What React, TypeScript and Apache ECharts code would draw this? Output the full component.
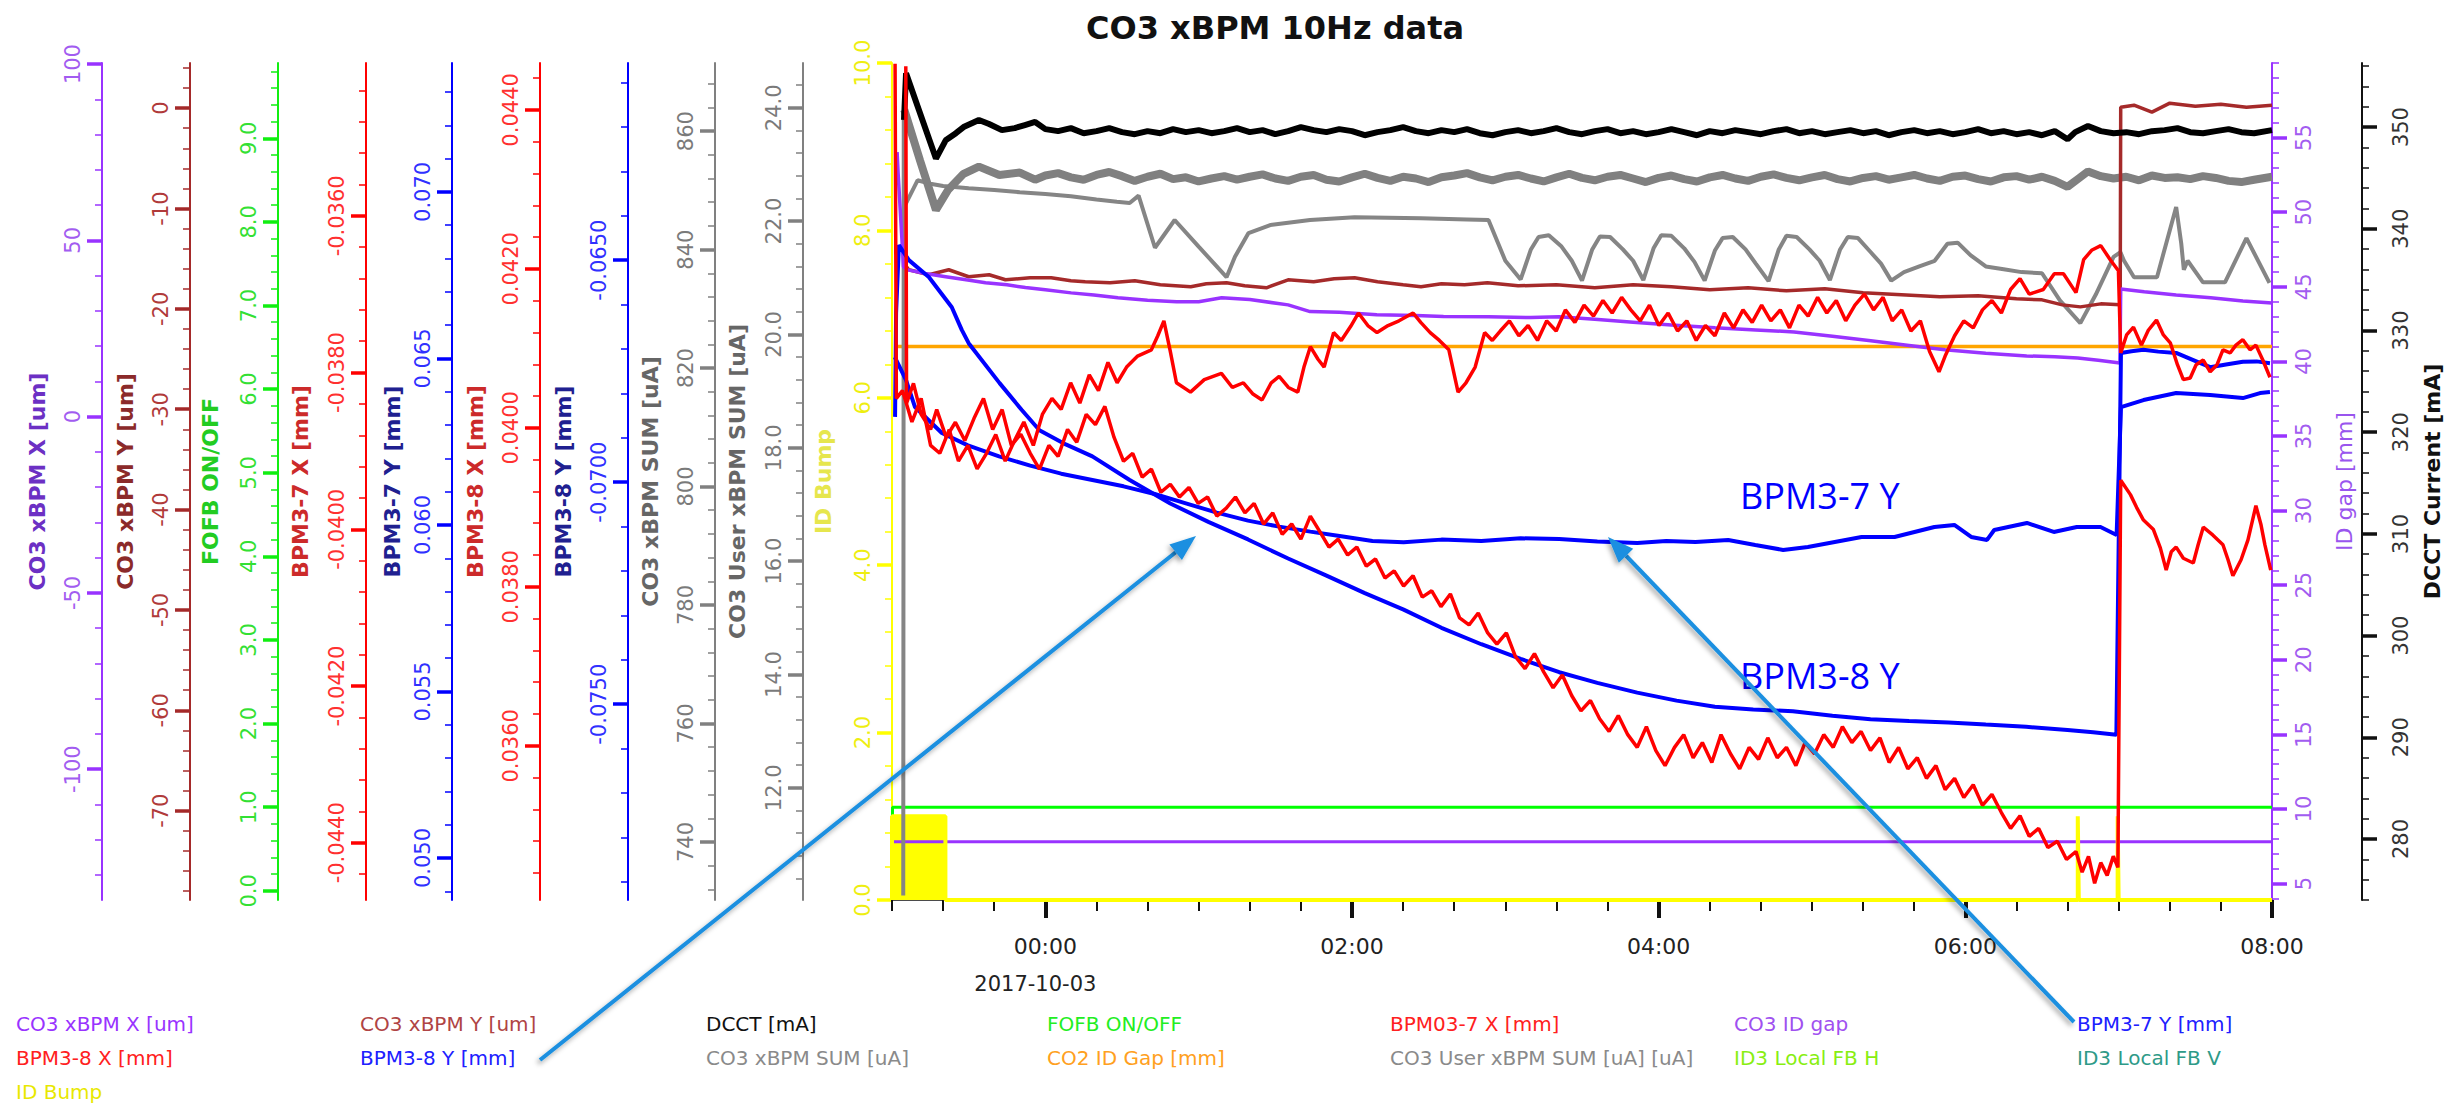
import React, { useEffect, useRef } from 'react';
import * as echarts from 'echarts';

type Pt = [number, number];

const FONT = "'DejaVu Sans', 'Liberation Sans', sans-serif";
const TITLE = 'CO3 xBPM 10Hz data';
const DAY_LABEL = '2017-10-03';

// Time axis: minutes after 2017-10-03 00:00
const X_MIN = -60;
const X_MAX = 480;
const hourTicks = [0, 120, 240, 360, 480];

// Major tick values of every vertical scale
const xbpmXTicks = [-100, -50, 0, 50, 100];
const xbpmYTicks = [-70, -60, -50, -40, -30, -20, -10, 0];
const fofbTicks = [0, 1, 2, 3, 4, 5, 6, 7, 8, 9];
const bpm37xTicks = [-0.044, -0.042, -0.04, -0.038, -0.036];
const bpm37yTicks = [0.05, 0.055, 0.06, 0.065, 0.07];
const bpm38xTicks = [0.036, 0.038, 0.04, 0.042, 0.044];
const bpm38yTicks = [-0.075, -0.07, -0.065];
const sumTicks = [740, 760, 780, 800, 820, 840, 860];
const userSumTicks = [12, 14, 16, 18, 20, 22, 24];
const idBumpTicks = [0, 2, 4, 6, 8, 10];
const idGapTicks = [5, 10, 15, 20, 25, 30, 35, 40, 45, 50, 55];
const dcctTicks = [280, 290, 300, 310, 320, 330, 340, 350];

// ---- series data: [minutes, value] ----
const co3IdGap: Pt[] = [[-60, 7.8], [480, 7.8]];
const co2IdGap: Pt[] = [[-58.8, 41.0], [480, 41.0]];
const fofb: Pt[] = [[-60, 0], [-59.8, 1], [480, 1]];
const idBump: Pt[] = [
  [-60, 0], [-60, 1], [-39.1, 1], [-39.1, 0], [404, 0], [404, 1], [404.4, 0],
  [419.6, 0], [419.6, 1], [420, 0], [480, 0],
];

const dcct: Pt[] = [
  [-55.3, 350.7], [-54.5, 355.3], [-49.5, 351.7], [-42.8, 346.9], [-39, 348.7], [-35, 349.4], [-32, 350.0],
  [-26, 350.7], [-22, 350.3], [-17, 349.7], [-12, 349.9], [-8, 350.2], [-4, 350.5], [0, 349.8], [5, 349.6],
  [10, 349.9], [15, 349.4], [20, 349.6], [25, 349.9], [30, 349.5], [35, 349.3], [40, 349.6], [45, 349.4],
  [50, 349.8], [55, 349.5], [60, 349.7], [65, 349.4], [70, 349.6], [75, 349.9], [80, 349.5], [85, 349.7],
  [90, 349.3], [95, 349.6], [100, 350.0], [105, 349.7], [110, 349.5], [115, 349.8], [120, 349.6], [125, 349.2],
  [130, 349.5], [135, 349.7], [140, 350.0], [145, 349.6], [150, 349.4], [155, 349.7], [160, 349.5], [165, 349.8],
  [170, 349.4], [175, 349.2], [180, 349.5], [185, 349.7], [190, 349.4], [195, 349.6], [200, 349.9], [205, 349.5],
  [210, 349.3], [215, 349.6], [220, 349.8], [225, 349.4], [230, 349.6], [235, 349.3], [240, 349.5], [245, 349.8],
  [250, 349.5], [255, 349.2], [260, 349.6], [265, 349.4], [270, 349.7], [275, 349.5], [280, 349.3], [285, 349.6],
  [290, 349.8], [295, 349.4], [300, 349.6], [305, 349.3], [310, 349.5], [315, 349.7], [320, 349.4], [325, 349.6],
  [330, 349.2], [335, 349.5], [340, 349.7], [345, 349.4], [350, 349.6], [355, 349.3], [360, 349.5], [365, 349.8],
  [370, 349.4], [375, 349.6], [380, 349.3], [385, 349.5], [390, 349.2], [395, 349.6], [400, 348.8], [403, 349.5],
  [408, 350.1], [413, 349.6], [418, 349.4], [423, 349.5], [428, 349.3], [433, 349.6], [438, 349.7], [443, 349.9],
  [448, 349.5], [453, 349.4], [458, 349.6], [463, 349.8], [468, 349.5], [473, 349.4], [480, 349.7],
];

const xbpmSum: Pt[] = [
  [-55.2, 863.6], [-49, 855.0], [-42.8, 846.7], [-38, 850.1], [-32, 852.8], [-26, 854.0], [-18, 852.6], [-10, 853.0],
  [-4, 851.8], [0, 852.5], [5, 852.9], [10, 852.2], [15, 851.8], [20, 852.6], [25, 853.1], [30, 852.4], [35, 851.6],
  [40, 852.3], [45, 852.8], [50, 851.9], [55, 852.2], [60, 851.5], [65, 852.0], [70, 852.4], [75, 851.8], [80, 852.3],
  [85, 852.7], [90, 852.0], [95, 851.6], [100, 852.3], [105, 852.6], [110, 851.8], [115, 851.5], [120, 852.2],
  [125, 852.8], [130, 852.1], [135, 851.6], [140, 852.3], [145, 852.0], [150, 851.4], [155, 852.2], [160, 852.5],
  [165, 852.9], [170, 852.2], [175, 851.7], [180, 852.3], [185, 852.6], [190, 852.0], [195, 851.5], [200, 852.2],
  [205, 852.8], [210, 852.1], [215, 851.7], [220, 852.3], [225, 852.6], [230, 852.0], [235, 851.4], [240, 852.1],
  [245, 852.5], [250, 851.9], [255, 851.5], [260, 852.2], [265, 852.6], [270, 852.0], [275, 851.6], [280, 852.3],
  [285, 852.7], [290, 852.1], [295, 851.7], [300, 852.2], [305, 852.6], [310, 851.9], [315, 851.5], [320, 852.1],
  [325, 852.4], [330, 851.8], [335, 852.2], [340, 852.6], [345, 852.0], [350, 851.6], [355, 852.3], [360, 852.5],
  [365, 851.9], [370, 851.5], [375, 852.2], [380, 852.4], [385, 851.8], [390, 852.3], [395, 851.6], [400, 850.6],
  [404, 851.9], [408, 853.2], [413, 852.4], [418, 852.0], [423, 852.3], [428, 851.7], [433, 852.5], [438, 852.1],
  [443, 852.2], [448, 851.9], [453, 852.4], [458, 852.1], [463, 851.6], [468, 851.4], [473, 851.8], [480, 852.3],
];

const userSum: Pt[] = [
  [-55.6, 10.1], [-55.4, 23.9], [-55.2, 22.25], [-50, 22.72], [-45, 22.66], [-40, 22.62], [-30, 22.58], [-20, 22.55],
  [-10, 22.51], [0, 22.48], [10, 22.44], [20, 22.38], [28, 22.34], [33, 22.32], [36.5, 22.45], [42.9, 21.53],
  [50.6, 22.02], [60, 21.55], [70.9, 21.01], [74.2, 21.37], [79.5, 21.79], [88, 21.93], [103.6, 22.02], [121, 22.07],
  [147, 22.05], [165, 22.03], [173.4, 22.02], [180, 21.3], [186, 20.97], [190, 21.5], [193, 21.72], [197, 21.75],
  [202, 21.55], [206, 21.3], [210, 20.95], [214, 21.5], [217, 21.73], [221, 21.72], [226, 21.5], [230, 21.3],
  [234, 20.96], [238, 21.52], [241, 21.75], [245, 21.74], [250, 21.52], [254, 21.28], [258, 20.95], [262, 21.48],
  [265, 21.7], [269, 21.72], [274, 21.5], [278, 21.25], [283, 20.94], [287, 21.5], [290, 21.74], [294, 21.72],
  [299, 21.5], [303, 21.3], [307, 20.96], [311, 21.5], [314, 21.72], [318, 21.7], [323, 21.45], [327, 21.25],
  [331, 20.95], [336, 21.1], [342, 21.2], [348, 21.3], [353, 21.6], [357, 21.62], [362, 21.4], [368, 21.2],
  [375, 21.15], [382, 21.1], [390, 21.08], [397, 20.6], [405, 20.2], [411, 20.7], [418, 21.37], [420.7, 21.45],
  [422, 21.31], [426, 21.01], [435, 21.01], [442.5, 22.25], [444.5, 21.6], [445.5, 21.14], [447, 21.3], [453, 20.92],
  [461.6, 20.92], [470, 21.7], [479, 20.91],
];

const xbpmY: Pt[] = [
  [-55.5, -15.4], [-53.4, -16.1], [-45.6, -16.6], [-37.8, -16.1], [-30, -16.8], [-22, -16.6], [-15.6, -17.1],
  [-6, -16.9], [2.3, -16.9], [10, -17.2], [15.6, -17.3], [25.3, -17.4], [35, -17.2], [45, -17.6], [56.9, -17.8],
  [63, -17.5], [70.9, -17.4], [78, -17.7], [86.5, -17.9], [95, -17.1], [105, -17.3], [113, -17.0], [121, -16.9],
  [130, -17.3], [140, -17.6], [147, -17.8], [155, -17.5], [164, -17.6], [173, -17.4], [185, -17.7], [200, -17.6],
  [215, -17.9], [230, -17.6], [245, -17.8], [260, -18.1], [275, -17.9], [290, -18.2], [305, -18.0], [320, -18.4],
  [335, -18.6], [350, -18.8], [365, -18.7], [380, -19.0], [390, -19.1], [398, -19.6], [405, -19.8], [413, -19.5],
  [420.6, -19.6], [420.8, 0.1], [426, 0.3], [433, -0.4], [440, 0.5], [450, 0.2], [460, 0.4], [470, 0.1], [480, 0.3],
];

const xbpmX: Pt[] = [
  [-58, 75.0], [-57.6, 69.0], [-55.5, 42.5], [-54.2, 41.7], [-47, 40.6], [-39, 39.7], [-31, 38.8], [-23.4, 38.0],
  [-15, 37.4], [-7.8, 36.6], [0, 36.0], [10.1, 35.1], [19, 34.5], [28.4, 33.7], [40, 33.0], [51.4, 32.6], [60, 32.6],
  [69, 33.7], [80, 33.2], [95, 31.7], [103.6, 29.8], [115, 29.6], [129.7, 28.9], [145, 28.7], [155.8, 28.4],
  [173.4, 28.3], [190, 28.1], [201, 28.3], [215, 27.6], [230, 26.8], [245, 26.0], [262, 25.2], [278, 24.6],
  [293, 24.0], [308, 22.8], [323, 21.5], [338, 20.2], [352, 19.0], [368, 18.0], [384, 17.2], [395, 17.0],
  [404, 16.6], [412, 16.0], [420.5, 15.2], [420.8, 36.2], [430, 35.4], [442.5, 34.5], [456, 33.7], [468.6, 32.8],
  [480, 32.2],
];

const bpm37y: Pt[] = [
  [-58.9, 0.06504], [-54.5, 0.06435], [-51, 0.06354], [-40.5, 0.06276], [-30.3, 0.06239], [-18.1, 0.06206],
  [-5.9, 0.06178], [6.2, 0.06154], [18.4, 0.06135], [30.6, 0.06116], [42.8, 0.06093], [55, 0.06065], [67.1, 0.06037],
  [79.3, 0.06013], [91.5, 0.05995], [103.7, 0.0598], [115.8, 0.05966], [128, 0.05952], [140.2, 0.05948],
  [155, 0.05956], [170.6, 0.05952], [186, 0.0596], [201.1, 0.05958], [216, 0.0595], [231.6, 0.05946], [243, 0.05952],
  [254.4, 0.05949], [267.2, 0.05955], [277.8, 0.0594], [288.7, 0.05925], [298.4, 0.05934], [308.9, 0.05949],
  [319.4, 0.05964], [332.3, 0.05964], [347.9, 0.05994], [355.7, 0.06], [362.3, 0.05964], [368.5, 0.05955],
  [371.3, 0.05985], [384.1, 0.06006], [394.6, 0.05979], [403.6, 0.05994], [412.9, 0.05994], [419.2, 0.0597],
  [420.9, 0.06354], [429.7, 0.06375], [442.5, 0.06396], [455.8, 0.0639], [468.6, 0.06381], [475.3, 0.06396],
  [479.2, 0.06399],
];

const bpm38y: Pt[] = [
  [-58.8, -0.06853], [-58.4, -0.06619], [-57.3, -0.06466], [-53.4, -0.065], [-45.6, -0.06538], [-36.6, -0.06606],
  [-32.7, -0.06657], [-30, -0.06687], [-17.9, -0.06777], [-9.3, -0.06837], [-2.3, -0.06883], [8, -0.06915],
  [18.4, -0.06942], [33, -0.06995], [48.9, -0.07048], [64, -0.0709], [79.3, -0.07129], [95, -0.07172],
  [109.8, -0.0721], [125, -0.0725], [140.2, -0.07287], [155, -0.07328], [170.6, -0.07365], [186, -0.07398],
  [201.1, -0.07428], [216, -0.07452], [231.6, -0.07474], [247, -0.07492], [262, -0.07506], [277, -0.07512],
  [292.5, -0.07516], [308, -0.07526], [322.9, -0.07534], [338, -0.07538], [353.4, -0.07541], [368, -0.07546],
  [383.8, -0.07551], [400, -0.07558], [410, -0.07563], [419.1, -0.07569], [420.9, -0.06709], [425, -0.06705],
  [429.7, -0.06702], [435.5, -0.06706], [442.5, -0.06709], [449.2, -0.06725], [455.8, -0.06741], [462, -0.06735],
  [468.6, -0.06729], [474, -0.06728], [479.2, -0.06732],
];

const bpm38x: Pt[] = [
  [-54.6, 0.04455], [-54.3, 0.04031], [-51.6, 0.04056], [-48.6, 0.04017], [-44.9, 0.03998], [-42.5, 0.04023],
  [-38.8, 0.03988], [-35.2, 0.04007], [-31.5, 0.03984], [-27.9, 0.04012], [-24.2, 0.04037], [-20.6, 0.03998],
  [-16.9, 0.04023], [-13.3, 0.03978], [-9.6, 0.03992], [-5.9, 0.03968], [-2.3, 0.03948], [1.4, 0.03978],
  [5.0, 0.03964], [8.7, 0.03998], [12.3, 0.03982], [16.0, 0.04017], [19.6, 0.04004], [23.3, 0.04027],
  [26.9, 0.03988], [30.6, 0.03958], [34.2, 0.03968], [37.9, 0.03938], [41.5, 0.03948], [45.2, 0.03919],
  [48.9, 0.03929], [52.5, 0.03913], [56.2, 0.03925], [59.8, 0.03905], [63.5, 0.03913], [67.1, 0.03889],
  [70.8, 0.03899], [74.4, 0.03913], [78.1, 0.03893], [81.7, 0.03905], [85.4, 0.03879], [89.0, 0.03893],
  [92.7, 0.03866], [96.4, 0.03879], [100.0, 0.0386], [103.7, 0.03889], [107.3, 0.0387], [111.0, 0.0385],
  [114.6, 0.0386], [118.3, 0.0384], [121.9, 0.0385], [125.6, 0.03826], [129.2, 0.03835], [132.9, 0.03811],
  [136.5, 0.0382], [140.2, 0.03801], [143.9, 0.03814], [147.5, 0.03787], [151.2, 0.03795], [154.8, 0.03775],
  [158.5, 0.03791], [162.1, 0.03761], [165.8, 0.03752], [169.4, 0.03767], [173.1, 0.03742], [176.7, 0.03728],
  [180.4, 0.03742], [184.0, 0.03712], [187.7, 0.03697], [191.4, 0.03716], [195.0, 0.03693], [198.7, 0.03673],
  [202.3, 0.03689], [206.0, 0.03663], [209.6, 0.03644], [213.3, 0.03657], [216.9, 0.03634], [220.6, 0.03618],
  [224.2, 0.03638], [227.9, 0.03614], [231.6, 0.03598], [235.2, 0.03624], [238.9, 0.03594], [242.5, 0.03575],
  [246.2, 0.03598], [249.8, 0.03614], [253.5, 0.03585], [257.1, 0.03604], [260.8, 0.03579], [264.4, 0.03614],
  [268.1, 0.0359], [271.7, 0.03571], [275.4, 0.03598], [279.1, 0.03583], [282.7, 0.0361], [286.4, 0.03585],
  [290.0, 0.03598], [293.7, 0.03575], [297.3, 0.03604], [301.0, 0.0359], [304.6, 0.03614], [308.3, 0.03598],
  [311.9, 0.03624], [315.6, 0.03604], [319.2, 0.03618], [322.9, 0.03594], [326.6, 0.0361], [330.2, 0.03579],
  [333.9, 0.03598], [337.5, 0.03571], [341.2, 0.03585], [344.8, 0.03559], [348.5, 0.03575], [352.1, 0.03545],
  [355.8, 0.03559], [359.4, 0.03535], [363.1, 0.03551], [366.7, 0.03525], [370.4, 0.03539], [374.1, 0.03516],
  [377.7, 0.03496], [381.4, 0.03512], [385.0, 0.03486], [388.7, 0.03496], [392.3, 0.03472], [396.0, 0.0348],
  [399.6, 0.03457], [403.3, 0.03467], [405.7, 0.03441], [408.2, 0.03461], [410.6, 0.03427], [413.0, 0.03453],
  [415.5, 0.03437], [417.9, 0.03461], [419.7, 0.03447], [420.8, 0.03934], [424.6, 0.03916], [427.0, 0.039],
  [429.7, 0.03884], [433.6, 0.03872], [436.3, 0.03849], [438.6, 0.03821], [440.6, 0.03844], [442.5, 0.0385],
  [445.3, 0.03836], [449.2, 0.0383], [451.1, 0.03853], [453.1, 0.03875], [456.9, 0.03865], [460.8, 0.03853],
  [462.8, 0.03834], [464.7, 0.03814], [467.9, 0.03834], [470.6, 0.03859], [473.7, 0.03902], [475.7, 0.03878],
  [477.2, 0.03853], [479.5, 0.03821],
];

const bpm37x: Pt[] = [
  [-58.8, -0.03406], [-58.3, -0.03833], [-55.9, -0.03823], [-52.2, -0.03863], [-48.6, -0.03833], [-44.9, -0.03893],
  [-41.3, -0.03903], [-37.6, -0.03873], [-34.0, -0.03913], [-30.3, -0.03893], [-26.7, -0.03923], [-23.0, -0.03903],
  [-19.4, -0.03879], [-15.7, -0.03913], [-12.1, -0.03887], [-8.4, -0.03863], [-4.7, -0.03893], [-1.1, -0.03853],
  [2.6, -0.03833], [6.2, -0.03847], [9.9, -0.03813], [13.5, -0.03839], [17.2, -0.03803], [20.8, -0.03823],
  [24.5, -0.03787], [28.1, -0.03813], [31.8, -0.03793], [36.1, -0.03779], [41.5, -0.03771], [44.0, -0.03753],
  [46.4, -0.03734], [48.9, -0.03773], [51.3, -0.03813], [56.8, -0.03825], [62.2, -0.03809], [68.9, -0.03801],
  [73.2, -0.03819], [77.5, -0.03813], [81.1, -0.03827], [84.8, -0.03835], [88.4, -0.03813], [91.5, -0.03805],
  [95.1, -0.03819], [98.8, -0.03825], [101.2, -0.03793], [103.7, -0.03767], [106.7, -0.03783], [109.1, -0.03793],
  [112.8, -0.03749], [115.8, -0.03759], [119.5, -0.03741], [122.5, -0.03724], [126.2, -0.0374], [129.8, -0.03749],
  [134.1, -0.0374], [138.4, -0.03734], [143.9, -0.03724], [146.9, -0.03736], [150.6, -0.03749], [154.2, -0.03759],
  [157.9, -0.03771], [161.5, -0.03825], [164.6, -0.03813], [168.2, -0.03793], [171.9, -0.03749], [174.9, -0.03759],
  [178.0, -0.03747], [181.6, -0.03734], [185.3, -0.03753], [188.9, -0.0374], [192.6, -0.03759], [196.2, -0.03734],
  [199.9, -0.03747], [203.5, -0.0372], [207.2, -0.03736], [210.8, -0.03714], [214.5, -0.03728], [218.2, -0.03708],
  [221.8, -0.03724], [225.5, -0.03704], [229.1, -0.0372], [232.8, -0.03734], [236.4, -0.03714], [240.1, -0.0374],
  [243.7, -0.03724], [247.4, -0.03747], [251.0, -0.03734], [254.7, -0.03759], [258.3, -0.0374], [262.0, -0.03753],
  [265.7, -0.03724], [269.3, -0.03743], [273.0, -0.0372], [276.6, -0.03736], [280.3, -0.03714], [283.9, -0.03734],
  [287.6, -0.0372], [291.2, -0.03743], [294.9, -0.03714], [298.5, -0.03728], [302.2, -0.03704], [305.8, -0.03724],
  [309.5, -0.03708], [313.2, -0.03734], [316.8, -0.03714], [320.5, -0.037], [324.1, -0.0372], [327.8, -0.03704],
  [331.4, -0.03734], [335.1, -0.0372], [338.7, -0.03747], [342.4, -0.03734], [346.0, -0.03773], [349.7, -0.03799],
  [352.1, -0.03779], [355.8, -0.03753], [359.4, -0.03734], [363.1, -0.03743], [366.7, -0.0372], [370.4, -0.03708],
  [374.1, -0.03724], [377.7, -0.03694], [381.4, -0.0368], [385.0, -0.037], [390.5, -0.03694], [394.8, -0.03674],
  [398.4, -0.03674], [403.3, -0.03698], [406.3, -0.03656], [409.4, -0.03644], [413.0, -0.03638], [416.7, -0.03656],
  [419.9, -0.0367], [420.8, -0.03775], [423.1, -0.03752], [425.8, -0.03742], [428.9, -0.03765], [431.6, -0.03746],
  [434.8, -0.03733], [437.5, -0.03752], [440.2, -0.03762], [443.0, -0.0379], [445.3, -0.03809], [448.0, -0.03807],
  [450.3, -0.0379], [453.1, -0.03784], [455.8, -0.03799], [458.5, -0.0379], [460.8, -0.03771], [463.6, -0.03775],
  [465.9, -0.03765], [468.6, -0.03758], [471.4, -0.03771], [473.7, -0.03765], [476.4, -0.03784], [479.2, -0.03806],
];

// ---- axis definitions (left to right) ----
interface AxisDef {
  name: string; min: number; max: number; ticks: number[]; minor: number; dec: number;
  line: string; label: string; nameColor: string; position: 'left' | 'right'; offset: number;
  nameGap: number; margin: number; bold: boolean;
}

const axes: AxisDef[] = [
  { name: 'CO3 xBPM X [um]', min: -137.1, max: 100.3, ticks: xbpmXTicks, minor: 10, dec: 0, line: '#9933ff', label: '#a25cf0', nameColor: '#6c30c4', position: 'left', offset: 790, nameGap: 54, margin: 19, bold: true },
  { name: 'CO3 xBPM Y [um]', min: -78.9, max: 4.5, ticks: xbpmYTicks, minor: 2, dec: 0, line: '#a52a2a', label: '#b03a3a', nameColor: '#8b2a2a', position: 'left', offset: 702, nameGap: 54, margin: 19, bold: true },
  { name: 'FOFB ON/OFF', min: -0.11, max: 9.9, ticks: fofbTicks, minor: 0.2, dec: 1, line: '#11ee11', label: '#33e033', nameColor: '#22cc22', position: 'left', offset: 614, nameGap: 57, margin: 19, bold: true },
  { name: 'BPM3-7 X [mm]', min: -0.04473, max: -0.03405, ticks: bpm37xTicks, minor: 0.0004, dec: 4, line: '#ff0000', label: '#ff3030', nameColor: '#cc2a2a', position: 'left', offset: 526, nameGap: 55, margin: 19, bold: true },
  { name: 'BPM3-7 Y [mm]', min: 0.04874, max: 0.07387, ticks: bpm37yTicks, minor: 0.001, dec: 3, line: '#0000ff', label: '#3030ff', nameColor: '#202090', position: 'left', offset: 440, nameGap: 49, margin: 19, bold: true },
  { name: 'BPM3-8 X [mm]', min: 0.03406, max: 0.04459, ticks: bpm38xTicks, minor: 0.0004, dec: 4, line: '#ff0000', label: '#ff3030', nameColor: '#cc2a2a', position: 'left', offset: 352, nameGap: 54, margin: 19, bold: true },
  { name: 'BPM3-8 Y [mm]', min: -0.07941, max: -0.06056, ticks: bpm38yTicks, minor: 0.001, dec: 4, line: '#0000ff', label: '#3030ff', nameColor: '#202090', position: 'left', offset: 264, nameGap: 54, margin: 19, bold: true },
  { name: 'CO3 xBPM SUM [uA]', min: 730.2, max: 871.5, ticks: sumTicks, minor: 4, dec: 0, line: '#808080', label: '#7a7a7a', nameColor: '#666666', position: 'left', offset: 177, nameGap: 54, margin: 19, bold: true },
  { name: 'CO3 User xBPM SUM [uA]', min: 10.02, max: 24.79, ticks: userSumTicks, minor: 0.4, dec: 1, line: '#808080', label: '#7a7a7a', nameColor: '#666666', position: 'left', offset: 89, nameGap: 55, margin: 19, bold: true },
  { name: 'ID Bump', min: 0, max: 10, ticks: idBumpTicks, minor: 0.4, dec: 1, line: '#ffff00', label: '#eeee10', nameColor: '#e6e64d', position: 'left', offset: 0, nameGap: 58, margin: 19, bold: true },
  { name: 'ID gap [mm]', min: 3.9, max: 60.0, ticks: idGapTicks, minor: 1, dec: 0, line: '#9933ff', label: '#a25cf0', nameColor: '#9955ee', position: 'right', offset: 0, nameGap: 61, margin: 21, bold: false },
  { name: 'DCCT Current [mA]', min: 274.0, max: 356.3, ticks: dcctTicks, minor: 2, dec: 0, line: '#111111', label: '#333333', nameColor: '#111111', position: 'right', offset: 90, nameGap: 59, margin: 28, bold: true },
];

function stepValues(min: number, max: number, step: number): number[] {
  const out: number[] = [];
  const start = Math.ceil(min / step - 1e-9);
  const end = Math.floor(max / step + 1e-9);
  for (let k = start; k <= end; k++) out.push(+(k * step).toFixed(10));
  return out;
}

function axisPair(a: AxisDef) {
  const common = {
    type: 'value', position: a.position, offset: a.offset, min: a.min, max: a.max,
    splitLine: { show: false }, gridIndex: 0,
  };
  return [
    {
      ...common,
      name: a.name, nameLocation: 'middle', nameRotate: 90, nameGap: a.nameGap,
      nameTextStyle: { color: a.nameColor, fontSize: 22, fontWeight: a.bold ? 'bold' : 'normal', fontFamily: FONT },
      axisLine: { show: true, onZero: false, lineStyle: { color: a.line, width: 2 } },
      axisTick: { show: true, customValues: a.ticks, length: 15, lineStyle: { color: a.line, width: 3.5 } },
      axisLabel: {
        show: true, customValues: a.ticks, rotate: 90, margin: a.margin, color: a.label,
        fontSize: 21, fontFamily: FONT, formatter: (v: number) => v.toFixed(a.dec),
      },
    },
    {
      // minor ticks of the same scale
      ...common,
      axisLine: { show: false, onZero: false },
      axisLabel: { show: false },
      axisTick: { show: true, customValues: stepValues(a.min, a.max, a.minor), length: 7, lineStyle: { color: a.line, width: 1.5 } },
    },
  ];
}

interface SeriesDef { name: string; data: Pt[]; axis: number; color: string; width: number; area?: boolean }

const seriesDefs: SeriesDef[] = [
  { name: 'CO3 ID gap', data: co3IdGap, axis: 10, color: '#9933ff', width: 3 },
  { name: 'FOFB ON/OFF', data: fofb, axis: 2, color: '#00ff00', width: 3 },
  { name: 'ID Bump', data: idBump, axis: 9, color: '#ffff00', width: 4, area: true },
  { name: 'CO2 ID Gap [mm]', data: co2IdGap, axis: 10, color: '#ffa500', width: 3.5 },
  { name: 'CO3 User xBPM SUM [uA] [uA]', data: userSum, axis: 8, color: '#858585', width: 4 },
  { name: 'CO3 xBPM SUM [uA]', data: xbpmSum, axis: 7, color: '#808080', width: 8 },
  { name: 'CO3 xBPM Y [um]', data: xbpmY, axis: 1, color: '#a52a2a', width: 3.5 },
  { name: 'CO3 xBPM X [um]', data: xbpmX, axis: 0, color: '#9933ff', width: 3.5 },
  { name: 'DCCT [mA]', data: dcct, axis: 11, color: '#000000', width: 6 },
  { name: 'BPM3-7 Y [mm]', data: bpm37y, axis: 4, color: '#0000ff', width: 4 },
  { name: 'BPM3-8 Y [mm]', data: bpm38y, axis: 6, color: '#0000ff', width: 4 },
  { name: 'BPM3-8 X [mm]', data: bpm38x, axis: 5, color: '#ff0000', width: 3.5 },
  { name: 'BPM03-7 X [mm]', data: bpm37x, axis: 3, color: '#ff0000', width: 3.5 },
  { name: 'ID3 Local FB H', data: [], axis: 10, color: '#88ee11', width: 2 },
  { name: 'ID3 Local FB V', data: [], axis: 10, color: '#2e9a88', width: 2 },
];

// legend text colours and column layout
const legendColors: Record<string, string> = {
  'CO3 xBPM X [um]': '#9933ff', 'CO3 xBPM Y [um]': '#b04444', 'DCCT [mA]': '#111111',
  'FOFB ON/OFF': '#22ee22', 'BPM03-7 X [mm]': '#ff2020', 'CO3 ID gap': '#a050f0',
  'BPM3-7 Y [mm]': '#2020ff', 'BPM3-8 X [mm]': '#ff2020', 'BPM3-8 Y [mm]': '#2020ff',
  'CO3 xBPM SUM [uA]': '#8a8a8a', 'CO2 ID Gap [mm]': '#ffa020', 'CO3 User xBPM SUM [uA] [uA]': '#8a8a8a',
  'ID3 Local FB H': '#88ee11', 'ID3 Local FB V': '#2e9a88', 'ID Bump': '#e8e800',
};
const legendColumns: string[][] = [
  ['CO3 xBPM X [um]', 'BPM3-8 X [mm]', 'ID Bump'],
  ['CO3 xBPM Y [um]', 'BPM3-8 Y [mm]'],
  ['DCCT [mA]', 'CO3 xBPM SUM [uA]'],
  ['FOFB ON/OFF', 'CO2 ID Gap [mm]'],
  ['BPM03-7 X [mm]', 'CO3 User xBPM SUM [uA] [uA]'],
  ['CO3 ID gap', 'ID3 Local FB H'],
  ['BPM3-7 Y [mm]', 'ID3 Local FB V'],
];
const legendLeft = [16, 360, 706, 1047, 1390, 1734, 2077];

const ARROW_COLOR = '#1a8fe0';
function arrow(x1: number, y1: number, x2: number, y2: number) {
  const dx = x2 - x1;
  const dy = y2 - y1;
  const len = Math.hypot(dx, dy);
  const ux = dx / len;
  const uy = dy / len;
  const L = 26;
  const W = 10;
  const bx = x2 - ux * L;
  const by = y2 - uy * L;
  const shadow = { shadowBlur: 5, shadowColor: 'rgba(0,0,0,0.35)', shadowOffsetX: -2, shadowOffsetY: 3 };
  return [
    { type: 'line', silent: true, z: 100, shape: { x1, y1, x2: bx, y2: by }, style: { stroke: ARROW_COLOR, lineWidth: 4, ...shadow } },
    {
      type: 'polygon', silent: true, z: 100,
      shape: { points: [[x2, y2], [bx - uy * W, by + ux * W], [bx + uy * W, by - ux * W]] },
      style: { fill: ARROW_COLOR, ...shadow },
    },
  ];
}

function hhmm(v: number) {
  const h = Math.round(v / 60);
  return `${String(h).padStart(2, '0')}:00`;
}

function buildOption() {
  const yAxis: any[] = [];
  axes.forEach((a) => yAxis.push(...axisPair(a)));

  const series = seriesDefs.map((s) => ({
    name: s.name,
    type: 'line',
    xAxisIndex: 0,
    yAxisIndex: s.axis * 2,
    data: s.data,
    showSymbol: false,
    symbol: 'none',
    silent: true,
    color: s.color,
    lineStyle: { color: s.color, width: s.width },
    areaStyle: s.area ? { color: s.color, opacity: 1, origin: 'start' } : undefined,
  }));

  const legend = legendColumns.map((col, i) => ({
    orient: 'vertical',
    left: legendLeft[i] - 5,
    top: 1014,
    itemGap: 14,
    itemWidth: 0,
    itemHeight: 0,
    icon: 'rect',
    selectedMode: false,
    padding: 0,
    textStyle: { fontSize: 20, fontFamily: FONT },
    data: col.map((name) => ({ name, textStyle: { color: legendColors[name] } })),
  }));

  return {
    animation: false,
    backgroundColor: '#ffffff',
    textStyle: { fontFamily: FONT },
    grid: { left: 892, right: 173, top: 63, bottom: 215 },
    xAxis: [
      {
        type: 'value', min: X_MIN, max: X_MAX, position: 'bottom',
        splitLine: { show: false },
        axisLine: { show: true, onZero: false, lineStyle: { color: '#111111', width: 1.5 } },
        axisTick: { show: true, customValues: hourTicks, length: 18, lineStyle: { color: '#111111', width: 4 } },
        axisLabel: {
          show: true, customValues: hourTicks, margin: 33, color: '#222222', fontFamily: FONT,
          formatter: (v: number) => (v === 0 ? `{t|${hhmm(v)}}\n{d|${DAY_LABEL}}` : `{t|${hhmm(v)}}`),
          rich: {
            t: { fontSize: 22, lineHeight: 26, color: '#222222', fontFamily: FONT },
            d: { fontSize: 21, lineHeight: 50, color: '#222222', fontFamily: FONT, padding: [0, 20, 0, 0] },
          },
        },
      },
      {
        // 20-minute minor ticks
        type: 'value', min: X_MIN, max: X_MAX, position: 'bottom',
        splitLine: { show: false },
        axisLine: { show: false, onZero: false },
        axisLabel: { show: false },
        axisTick: { show: true, customValues: stepValues(X_MIN, X_MAX, 20), length: 11, lineStyle: { color: '#111111', width: 2 } },
      },
    ],
    yAxis,
    legend,
    series,
    graphic: [
      {
        type: 'text', x: 1086, y: 28, silent: true,
        style: { text: TITLE, fill: '#111111', fontSize: 32, fontWeight: 'bold', fontFamily: FONT, align: 'left', verticalAlign: 'middle' },
      },
      {
        type: 'text', x: 1740, y: 495, silent: true, z: 100,
        style: { text: 'BPM3-7 Y', fill: '#0000ff', fontSize: 36, fontFamily: "'Open Sans', sans-serif", align: 'left', verticalAlign: 'middle' },
      },
      {
        type: 'text', x: 1740, y: 675, silent: true, z: 100,
        style: { text: 'BPM3-8 Y', fill: '#0000ff', fontSize: 36, fontFamily: "'Open Sans', sans-serif", align: 'left', verticalAlign: 'middle' },
      },
      ...arrow(540, 1060, 1196, 536),
      ...arrow(2074, 1022, 1608, 537),
    ],
  };
}

export default function App() {
  const ref = useRef<HTMLDivElement>(null);
  useEffect(() => {
    const el = ref.current;
    if (!el) return;
    const chart = echarts.init(el, null, { renderer: 'svg' });
    chart.setOption(buildOption() as any);
    return () => chart.dispose();
  }, []);
  return (
    <div
      ref={ref}
      style={{ position: 'absolute', left: 0, top: 0, width: 2451, height: 1115, background: '#ffffff' }}
    />
  );
}
